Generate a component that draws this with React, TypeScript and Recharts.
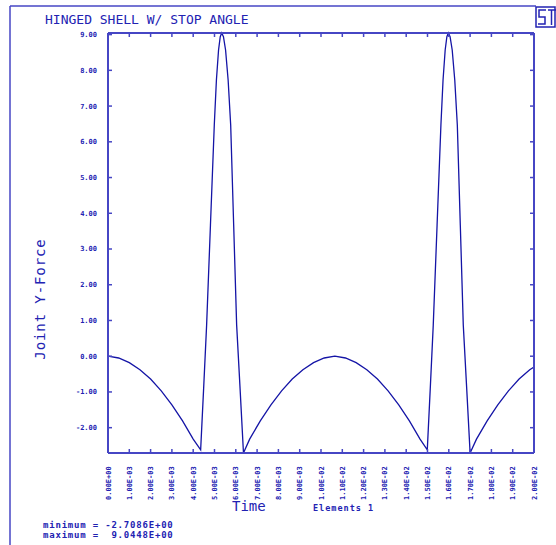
import React from 'react';
import { LineChart, Line, XAxis, YAxis } from 'recharts';

// time (s) / joint y-force pairs
const arch1 = [
  [0, 0], [0.0005, -0.05], [0.001, -0.18], [0.0015, -0.38], [0.002, -0.64],
  [0.0025, -0.97], [0.003, -1.36], [0.0035, -1.81], [0.004, -2.32], [0.00435, -2.62],
];
const peak1 = [
  [0.00449, -0.9], [0.00463, 0.87], [0.00481, 3.67], [0.00499, 6.47], [0.00509, 7.73],
  [0.00519, 8.57], [0.00527, 8.94], [0.00534, 9.0448], [0.00542, 8.94], [0.00552, 8.57],
  [0.00564, 7.73], [0.00576, 6.47], [0.0059, 3.67], [0.00604, 0.87], [0.0062, -0.9],
  [0.00636, -2.7086],
];
const arch2 = [
  [0.00665, -2.32], [0.00715, -1.81], [0.00765, -1.36], [0.00815, -0.97], [0.00865, -0.64],
  [0.00915, -0.38], [0.00965, -0.18], [0.01015, -0.05], [0.01065, 0.0], [0.01115, -0.05],
  [0.01165, -0.18], [0.01215, -0.38], [0.01265, -0.64], [0.01315, -0.97], [0.01365, -1.36],
  [0.01415, -1.81], [0.01465, -2.32], [0.01499, -2.62],
];
const peak2 = [
  [0.01513, -0.9], [0.01527, 0.87], [0.01545, 3.67], [0.01563, 6.47], [0.01573, 7.73],
  [0.01583, 8.57], [0.01591, 8.94], [0.01598, 9.0448], [0.01606, 8.94], [0.01616, 8.57],
  [0.01628, 7.73], [0.0164, 6.47], [0.01654, 3.67], [0.01668, 0.87], [0.01684, -0.9],
  [0.017, -2.7086],
];
const arch3 = [
  [0.0173, -2.32], [0.0178, -1.81], [0.0183, -1.36], [0.0188, -0.97], [0.0193, -0.64],
  [0.0198, -0.38], [0.02, -0.3],
];

const xTicks = [
  0, 0.001, 0.002, 0.003, 0.004, 0.005, 0.006, 0.007, 0.008, 0.009, 0.01,
  0.011, 0.012, 0.013, 0.014, 0.015, 0.016, 0.017, 0.018, 0.019, 0.02,
];
const yTicks = [-2, -1, 0, 1, 2, 3, 4, 5, 6, 7, 8, 9];
const minimumForce = -2.7086;
const maximumForce = 9.0448;

const data = [...arch1, ...peak1, ...arch2, ...peak2, ...arch3].map(([t, y]) => ({ t, y }));

const FRAME = '#4646c4';
const CURVE = '#1414a6';
const TEXT = '#2222b2';
const FONT = '"DejaVu Sans Mono", monospace';

function expLabel(v: number) {
  if (v === 0) return '0.00E+00';
  const exp = Math.floor(Math.log10(v) + 1e-9);
  const mant = v / Math.pow(10, exp);
  const sign = exp < 0 ? '-' : '+';
  return `${mant.toFixed(2)}E${sign}${String(Math.abs(exp)).padStart(2, '0')}`;
}

const BottomTick = (props: any) => {
  const { x, y, payload } = props;
  return (
    <g>
      <line x1={x} y1={y} x2={x} y2={y - 4} stroke={FRAME} strokeWidth={1.5} />
      <text
        transform={`translate(${x + 2.5},${y + 47}) rotate(-90)`}
        fontSize={7}
        fontWeight="bold"
        fill={TEXT}
        fontFamily={FONT}
      >
        {expLabel(payload.value)}
      </text>
    </g>
  );
};

const TopTick = (props: any) => {
  const { x, y } = props;
  return <line x1={x} y1={y} x2={x} y2={y + 4} stroke={FRAME} strokeWidth={1.5} />;
};

const LeftTick = (props: any) => {
  const { x, y, payload } = props;
  return (
    <g>
      <line x1={x} y1={y} x2={x + 4} y2={y} stroke={FRAME} strokeWidth={1.5} />
      <text x={x - 11} y={y} dy="0.35em" textAnchor="end" fontSize={7} fontWeight="bold" fill={TEXT} fontFamily={FONT}>
        {payload.value.toFixed(2)}
      </text>
    </g>
  );
};

const RightTick = (props: any) => {
  const { x, y } = props;
  return <line x1={x} y1={y} x2={x - 4} y2={y} stroke={FRAME} strokeWidth={1.5} />;
};

export default function App() {
  return (
    <div style={{ position: 'absolute', left: 0, top: 0, width: 556, height: 545, background: '#fff' }}>
      <LineChart width={556} height={545} data={data} margin={{ top: 32, right: 21, bottom: 32, left: 48 }}>
        <XAxis
          dataKey="t"
          type="number"
          domain={[0, 0.02]}
          ticks={xTicks}
          interval={0}
          tickSize={0}
          tickMargin={0}
          height={60}
          tick={BottomTick}
          tickLine={false}
          axisLine={{ stroke: FRAME, strokeWidth: 2 }}
        />
        <XAxis
          xAxisId="top"
          orientation="top"
          dataKey="t"
          type="number"
          domain={[0, 0.02]}
          ticks={xTicks}
          interval={0}
          tickSize={0}
          tickMargin={0}
          height={1}
          tick={TopTick}
          tickLine={false}
          axisLine={{ stroke: FRAME, strokeWidth: 2 }}
        />
        <YAxis
          type="number"
          domain={[minimumForce, maximumForce]}
          ticks={yTicks}
          interval={0}
          tickSize={0}
          tickMargin={0}
          width={60}
          tick={LeftTick}
          tickLine={false}
          axisLine={{ stroke: FRAME, strokeWidth: 2 }}
        />
        <YAxis
          yAxisId="right"
          orientation="right"
          type="number"
          domain={[minimumForce, maximumForce]}
          ticks={yTicks}
          interval={0}
          tickSize={0}
          tickMargin={0}
          width={1}
          tick={RightTick}
          tickLine={false}
          axisLine={{ stroke: FRAME, strokeWidth: 2 }}
        />
        <Line
          type="linear"
          dataKey="y"
          stroke={CURVE}
          strokeWidth={1.3}
          dot={false}
          activeDot={false}
          isAnimationActive={false}
        />
        <Line
          xAxisId="top"
          yAxisId="right"
          type="linear"
          dataKey="y"
          stroke="none"
          dot={false}
          activeDot={false}
          isAnimationActive={false}
        />
      </LineChart>
      <svg
        width={556}
        height={545}
        style={{ position: 'absolute', left: 0, top: 0, pointerEvents: 'none' }}
      >
        {/* outer page frame */}
        <line x1={10} y1={6} x2={536} y2={6} stroke={FRAME} strokeWidth={1.5} />
        <line x1={10} y1={6} x2={10} y2={545} stroke={FRAME} strokeWidth={1.5} />
        {/* logo */}
        <rect x={536} y={7} width={19} height={20} fill="none" stroke={TEXT} strokeWidth={1.5} />
        <path d="M546 10 H539 V17 H545 V24 H538" fill="none" stroke={TEXT} strokeWidth={1.5} />
        <path d="M548 10 H556 M551.5 10 V25" fill="none" stroke={TEXT} strokeWidth={1.5} />
        <text x={45} y={24} fontSize={13} fill={TEXT} fontFamily={FONT}>
          HINGED SHELL W/ STOP ANGLE
        </text>
        <text
          transform="translate(45,299) rotate(-90)"
          textAnchor="middle"
          fontSize={14}
          letterSpacing={0.9}
          fill={TEXT}
          fontFamily={FONT}
        >
          Joint Y-Force
        </text>
        <text x={232} y={511} fontSize={14} fill={TEXT} fontFamily={FONT}>
          Time
        </text>
        <text x={313} y={511} fontSize={8.5} letterSpacing={1} fontWeight="bold" fill={TEXT} fontFamily={FONT}>
          Elements 1
        </text>
        <text x={43} y={527.5} fontSize={9} letterSpacing={0.8} fontWeight="bold" fill={TEXT} fontFamily={FONT} style={{ whiteSpace: 'pre' }}>
          {`minimum = ${minimumForce.toFixed(4)}E+00`}
        </text>
        <text x={43} y={538} fontSize={9} letterSpacing={0.8} fontWeight="bold" fill={TEXT} fontFamily={FONT} style={{ whiteSpace: 'pre' }}>
          {`maximum =  ${maximumForce.toFixed(4)}E+00`}
        </text>
      </svg>
    </div>
  );
}
